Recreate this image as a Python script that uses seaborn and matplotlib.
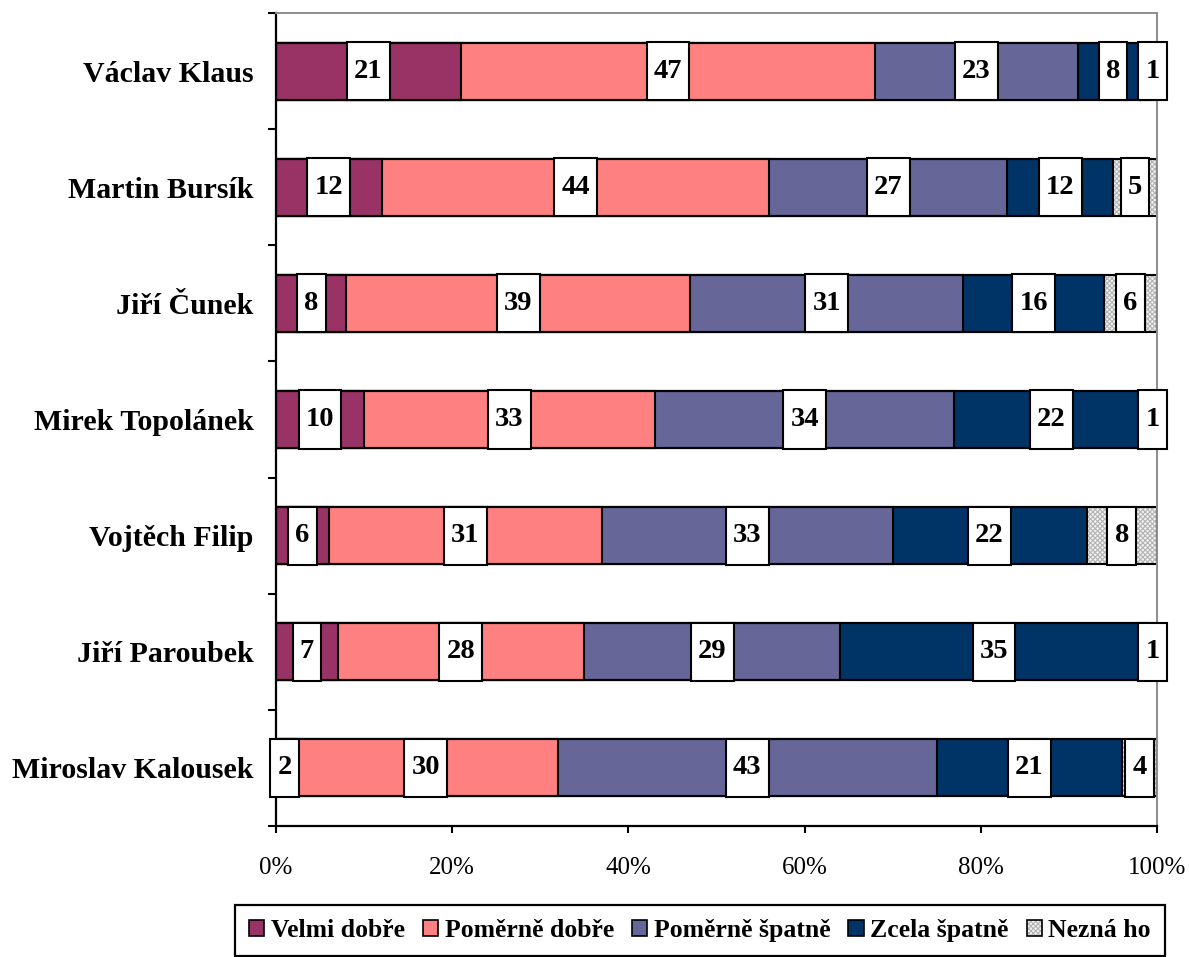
import matplotlib
matplotlib.use("Agg")
import matplotlib.pyplot as plt
import numpy as np
import pandas as pd
import seaborn as sns
from matplotlib.legend_handler import HandlerTuple
from matplotlib.patches import Patch
from matplotlib.path import Path
from matplotlib.ticker import FixedLocator

# ── Data ──────────────────────────────────────────────────────────────────────
politicians = ["Václav Klaus", "Martin Bursík", "Jiří Čunek", "Mirek Topolánek",
               "Vojtěch Filip", "Jiří Paroubek", "Miroslav Kalousek"]
velmi_dobre = [21, 12, 8, 10, 6, 7, 2]
pomerne_dobre = [47, 44, 39, 33, 31, 28, 30]
pomerne_spatne = [23, 27, 31, 34, 33, 29, 43]
zcela_spatne = [8, 12, 16, 22, 22, 35, 21]
nezna_ho = [1, 5, 6, 1, 8, 1, 4]

categories = ["Velmi dobře", "Poměrně dobře", "Poměrně špatně", "Zcela špatně", "Nezná ho"]
colors = ["#993366", "#FF8080", "#666699", "#003366", "#F2F2F2"]
x_ticks = [0, 20, 40, 60, 80, 100]

series = [velmi_dobre, pomerne_dobre, pomerne_spatne, zcela_spatne, nezna_ho]
df = pd.DataFrame({"name": politicians})
for cat, vals in zip(categories, series):
    df[cat] = vals
cum = np.cumsum(np.array(series), axis=0)          # shape (5, n)
for k in range(len(categories)):
    df[f"cum{k}"] = cum[k]

BAR_W = 0.49
EDGE = 1.5
HATCH = "xxxxxxx"
HATCH_COL = "#B4B4B4"


class LabelBox:
    """Rectangular bbox with separate x / y padding (fractions of font size)."""

    def __init__(self, padx=0.25, pady=0.58):
        self.padx, self.pady = padx, pady

    def __call__(self, x0, y0, width, height, mutation_size):
        px, py = self.padx * mutation_size, self.pady * mutation_size
        x0, y0 = x0 - px, y0 - py
        x1, y1 = x0 + width + 2 * px, y0 + height + 2 * py
        return Path([(x0, y0), (x1, y0), (x1, y1), (x0, y1), (x0, y0)], closed=True)


sns.set_style("ticks")
plt.rcParams["font.family"] = ["Liberation Serif", "DejaVu Serif"]
plt.rcParams.update({"text.color": "black", "axes.labelcolor": "black",
                     "xtick.color": "black", "ytick.color": "black",
                     "hatch.linewidth": 0.8})

fig = plt.figure(figsize=(11.89, 9.57), dpi=100)
ax = fig.add_axes([0.2321, 0.1369, 0.7410, 0.8495])

# hatched "Nezná ho" layer (full bar, no outline)
n_before = len(ax.patches)
sns.barplot(data=df, x="cum4", y="name", color=colors[4], saturation=1,
            width=BAR_W, linewidth=0, ax=ax)
for p in ax.patches[n_before:]:
    p.set_hatch(HATCH)
    p.set_edgecolor(HATCH_COL)
    p.set_linewidth(0)

# remaining segments, drawn from the longest cumulative bar to the shortest
for k in range(3, -1, -1):
    sns.barplot(data=df, x=f"cum{k}", y="name", color=colors[k], saturation=1,
                width=BAR_W, edgecolor="black", linewidth=EDGE, ax=ax)

# outline of the whole bar
sns.barplot(data=df, x="cum4", y="name", color="black", fill=False,
            width=BAR_W, linewidth=EDGE, ax=ax)

# value labels
for i in range(len(politicians)):
    left = 0
    for vals in series:
        v = vals[i]
        ax.text(left + v / 2, i, str(v), ha="center", va="center",
                fontsize=20.5, fontweight="bold", color="black", zorder=5,
                bbox=dict(boxstyle=LabelBox(), fc="white", ec="black", lw=EDGE))
        left += v

# ── Axes styling ──────────────────────────────────────────────────────────────
n = len(politicians)
ax.set_xlim(0, 100)
ax.set_ylim(n - 0.5, -0.5)
ax.set_xlabel("")
ax.set_ylabel("")

ax.xaxis.set_major_locator(FixedLocator(x_ticks))
ax.set_xticklabels([f"{t}%" for t in x_ticks], fontsize=18)
ax.tick_params(axis="x", direction="out", length=5, width=1.5, pad=17)

ax.yaxis.set_major_locator(FixedLocator(np.arange(-0.5, n, 1.0)))
ax.set_yticklabels([])
ax.yaxis.set_minor_locator(FixedLocator(np.arange(n)))
ax.set_yticklabels(politicians, minor=True, fontsize=21.5, fontweight="bold")
ax.tick_params(axis="y", which="major", direction="out", length=6, width=1.5)
ax.tick_params(axis="y", which="minor", length=0, pad=16)

for side in ("left", "bottom"):
    ax.spines[side].set_color("black")
    ax.spines[side].set_linewidth(1.6)
for side in ("top", "right"):
    ax.spines[side].set_visible(True)
    ax.spines[side].set_color("#8C8C8C")
    ax.spines[side].set_linewidth(1.4)

# ── Legend ────────────────────────────────────────────────────────────────────
handles = []
for k, cat in enumerate(categories):
    if k == 4:
        h = (Patch(facecolor=colors[k], edgecolor=HATCH_COL, hatch=HATCH, lw=0),
             Patch(facecolor="none", edgecolor="black", lw=1.2))
    else:
        h = Patch(facecolor=colors[k], edgecolor="black", lw=1.2)
    handles.append(h)

leg = fig.legend(handles=handles, labels=categories, loc="upper left",
                 bbox_to_anchor=(0.1976, 0.0544), ncol=5, frameon=True,
                 fancybox=False, framealpha=1, edgecolor="black",
                 prop={"size": 18.5, "weight": "bold"}, handlelength=0.6,
                 handleheight=0.6, handletextpad=0.25, columnspacing=0.7,
                 borderaxespad=0, borderpad=0.55,
                 handler_map={tuple: HandlerTuple(ndivide=1)})
leg.get_frame().set_linewidth(1.6)

fig.savefig("out.png", dpi=100)
